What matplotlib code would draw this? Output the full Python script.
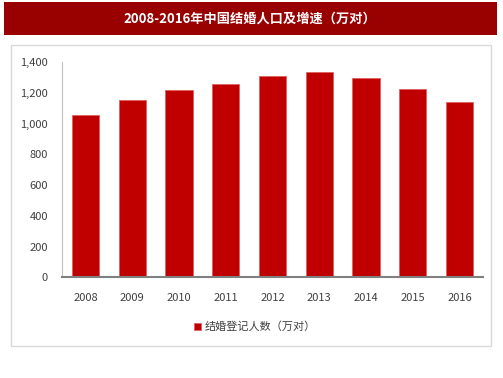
import matplotlib.pyplot as plt
from matplotlib.patches import Rectangle

plt.rcParams['font.family'] = ['Noto Sans CJK SC', 'DejaVu Sans']

years = ['2008', '2009', '2010', '2011', '2012', '2013', '2014', '2015', '2016']
marriages = [1058, 1156, 1215, 1256, 1306, 1334, 1295, 1223, 1140]
yticks = [0, 200, 400, 600, 800, 1000, 1200, 1400]
title = '2008-2016年中国结婚人口及增速（万对）'
series_name = '结婚登记人数（万对）'

W, H = 503, 378
fig = plt.figure(figsize=(W / 100, H / 100), dpi=100)
fig.patch.set_facecolor('white')

# title banner
fig.patches.append(Rectangle((4 / W, 1 - 35 / H), 493 / W, 33 / H,
                             transform=fig.transFigure, facecolor='#990000',
                             edgecolor='none', zorder=0))
fig.text(250 / W, 1 - 18.5 / H, title, color='white', fontsize=9.5,
         fontweight='bold', ha='center', va='center')

# chart frame
fig.patches.append(Rectangle((11 / W, 1 - 346 / H), 480 / W, 301 / H,
                             transform=fig.transFigure, facecolor='none',
                             edgecolor='#d9d9d9', linewidth=1, zorder=0))

ax = fig.add_axes([62 / W, 1 - 277.3 / H, 421 / W, 215.3 / H])
x = range(len(years))
bars = ax.bar(x, marriages, width=0.58, color='#C00000',
              edgecolor='#e06060', linewidth=0.6, label=series_name)
ax.set_xlim(-0.5, len(years) - 0.5)
ax.set_ylim(0, 1400)
ax.set_yticks(yticks)
ax.set_yticklabels([f'{v:,}' for v in yticks])
ax.set_xticks(list(x))
ax.set_xticklabels(years)
ax.tick_params(axis='both', length=0, labelsize=8, colors='#404040')
ax.tick_params(axis='y', pad=10)
ax.tick_params(axis='x', pad=11)
for s in ['top', 'right']:
    ax.spines[s].set_visible(False)
ax.spines['left'].set_color('#bfbfbf')
ax.spines['left'].set_linewidth(0.8)
ax.spines['bottom'].set_color('#808080')
ax.spines['bottom'].set_linewidth(1.5)

leg = fig.legend(handles=[bars], labels=[series_name], loc='center',
                 bbox_to_anchor=(255 / W, 1 - 327 / H), frameon=False,
                 fontsize=8, handlelength=0.6, handleheight=0.7,
                 handletextpad=0.3, labelcolor='#404040')

fig.savefig('out.png', dpi=100)
